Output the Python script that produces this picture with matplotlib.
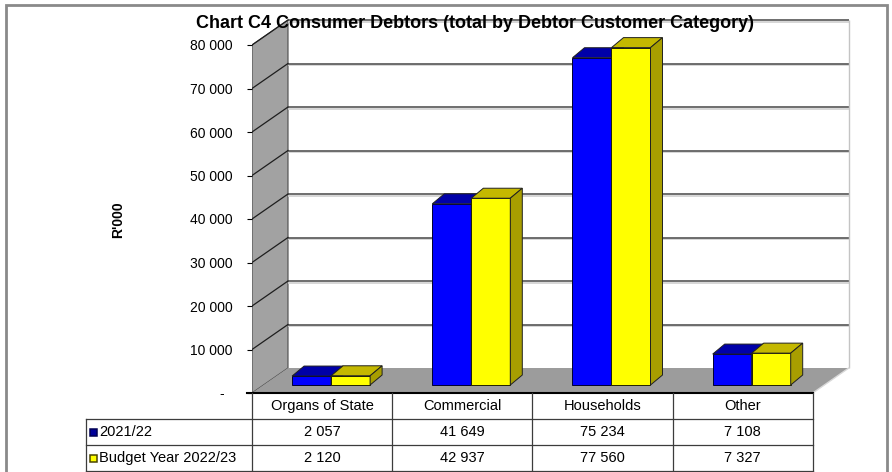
import matplotlib
matplotlib.use("Agg")
import matplotlib.pyplot as plt
from matplotlib import font_manager as fm
from matplotlib.patches import Polygon, Rectangle
import matplotlib.transforms as mtrans

# ---------------- data ----------------
categories = ["Organs of State", "Commercial", "Households", "Other"]
series_names = ["2021/22", "Budget Year 2022/23"]
values_2021 = [2057, 41649, 75234, 7108]
values_2022 = [2120, 42937, 77560, 7327]
y_ticks = [0, 10000, 20000, 30000, 40000, 50000, 60000, 70000, 80000]
title = "Chart C4 Consumer Debtors (total by Debtor Customer Category)"
y_label = "R'000"

# ---------------- fonts ----------------
available = {f.name for f in fm.fontManager.ttflist}
BASE = "Liberation Sans" if "Liberation Sans" in available else "DejaVu Sans"
NARROW = "Liberation Sans Narrow" if "Liberation Sans Narrow" in available else BASE
plt.rcParams["font.family"] = [BASE, "DejaVu Sans"]

W, H = 892, 472
fig = plt.figure(figsize=(W / 100, H / 100), dpi=100)

# ---------------- geometry (pixels) ----------------
X0, Y0 = 252, 393          # front-left corner of floor
PXC = 140.2                # px per category
PXV = 43.5 / 10000         # px per value unit
AX_R, AX_T = 856, 14
ax = fig.add_axes([X0 / W, (H - Y0) / H, (AX_R - X0) / W, (Y0 - AX_T) / H])
ax.set_facecolor("none")

n = len(categories)
ymax = y_ticks[-1]
DX, DY = 36 / PXC, 25 / PXV        # wall depth
FX, FY = 9 / PXC, 8 / PXV          # bar front offset
BX, BY = 12 / PXC, 10 / PXV        # bar depth
BW = 39 / PXC                      # bar width

# left wall
ax.add_patch(Polygon([(0, 0), (DX, DY), (DX, ymax + DY), (0, ymax)],
                     closed=True, fc="#a2a2a2", ec="#4a4a4a", lw=0.8, zorder=1))
# back wall gridlines
grid_vals = [v + DY for v in y_ticks[1:]]
ax.hlines([g - 1.6 / PXV for g in grid_vals], DX, n + DX, color="#cfcfcf", lw=1.2, zorder=1.4)
ax.hlines(grid_vals, DX, n + DX, color="#626262", lw=1.3, zorder=1.5)
ax.vlines(n + DX, DY, ymax + DY, color="#c4c4c4", lw=1.0, zorder=1.5)
# left wall diagonal gridlines
for v in y_ticks[1:]:
    ax.plot([0, DX], [v, v + DY], color="#1e1e1e", lw=0.9, zorder=2)
# floor
ax.add_patch(Polygon([(0, 0), (n, 0), (n + DX, DY), (DX, DY)],
                     closed=True, fc="#9c9c9c", ec="none", zorder=3))
ax.plot([n, n + DX], [0, DY], color="#d8d8d8", lw=1.0, zorder=3.5)
ax.plot([-5 / PXC, n], [0, 0], color="black", lw=1.5, zorder=4, clip_on=False)

# ---------------- bars ----------------
face = ["#0000ff", "#ffff00"]
top = ["#0000a8", "#c4b800"]
side = ["#00007a", "#a89e00"]
z = 10
for i in range(n):
    gc = i + 0.5 + FX
    for j, vals in enumerate([values_2021, values_2022]):
        v = vals[i]
        cx = gc - BW / 2 + j * BW
        xl, xr = cx - BW / 2, cx + BW / 2
        ax.bar(cx, v, width=BW, bottom=FY, color=face[j], edgecolor="#202000" if j else "#000030",
               linewidth=0.7, zorder=z)
        ax.add_patch(Polygon([(xl, FY + v), (xr, FY + v), (xr + BX, FY + v + BY), (xl + BX, FY + v + BY)],
                             closed=True, fc=top[j], ec="#202020", lw=0.7, zorder=z))
        ax.add_patch(Polygon([(xr, FY), (xr + BX, FY + BY), (xr + BX, FY + v + BY), (xr, FY + v)],
                             closed=True, fc=side[j], ec="#202020", lw=0.7, zorder=z))
        z += 1

# ---------------- axes ticks ----------------
def fmt(v):
    return "-  " if v == 0 else f"{v:,}".replace(",", " ")

ax.set_yticks(y_ticks)
ax.set_yticklabels([fmt(v) for v in y_ticks])
ax.tick_params(axis="y", length=3.6, width=0.8, pad=10.5, labelsize=10, colors="black")
ax.set_xticks([])
for s in ax.spines.values():
    s.set_visible(False)

fig.text(118 / W, 1 - 220 / H, y_label, rotation=90, ha="center", va="center",
         fontsize=10, fontweight="bold", family=[NARROW, BASE])
fig.text(475 / W, 1 - 23 / H, title, ha="center", va="center", fontsize=13,
         fontweight="bold", family=[NARROW, BASE])

# ---------------- data table ----------------
trans = mtrans.blended_transform_factory(ax.transData, fig.transFigure)
fy = lambda p: 1 - p / H
row_y = [406, 432, 458]
for i, c in enumerate(categories):
    ax.text(i + 0.5, fy(row_y[0]), c, transform=trans, ha="center", va="center",
            fontsize=10.5, clip_on=False)
for r, vals in enumerate([values_2021, values_2022]):
    for i, v in enumerate(vals):
        ax.text(i + 0.5, fy(row_y[r + 1]), fmt(v), transform=trans, ha="center", va="center",
                fontsize=10.5, clip_on=False)

xl_tab = (86 - X0) / PXC
line_kw = dict(transform=trans, clip_on=False, color="#3c3c3c", lw=0.9, zorder=20)
for xv in range(n + 1):
    ax.plot([xv, xv], [fy(393), fy(471)], **line_kw)
ax.plot([xl_tab, xl_tab], [fy(419), fy(471)], **line_kw)
for yp in [419, 445, 471]:
    ax.plot([xl_tab, n], [fy(yp), fy(yp)], **line_kw)

key_fc = ["#000099", "#ffff00"]
key_ec = ["#000055", "#4a4400"]
for r, name in enumerate(series_names):
    yc = row_y[r + 1]
    fig.add_artist(Rectangle((90 / W, fy(yc + 3.5)), 7 / W, 7 / H, transform=fig.transFigure,
                             fc=key_fc[r], ec=key_ec[r], lw=1.1))
    fig.text(99 / W, fy(yc), name, ha="left", va="center", fontsize=10.5)

# outer border
fig.add_artist(Rectangle((6 / W, fy(480)), 881 / W, 475 / H, transform=fig.transFigure,
                         fill=False, ec="#8a8a8a", lw=2, clip_on=False))

ax.set_xlim(0, (AX_R - X0) / PXC)
ax.set_ylim(0, (Y0 - AX_T) / PXV)

fig.savefig("out.png", dpi=100)
